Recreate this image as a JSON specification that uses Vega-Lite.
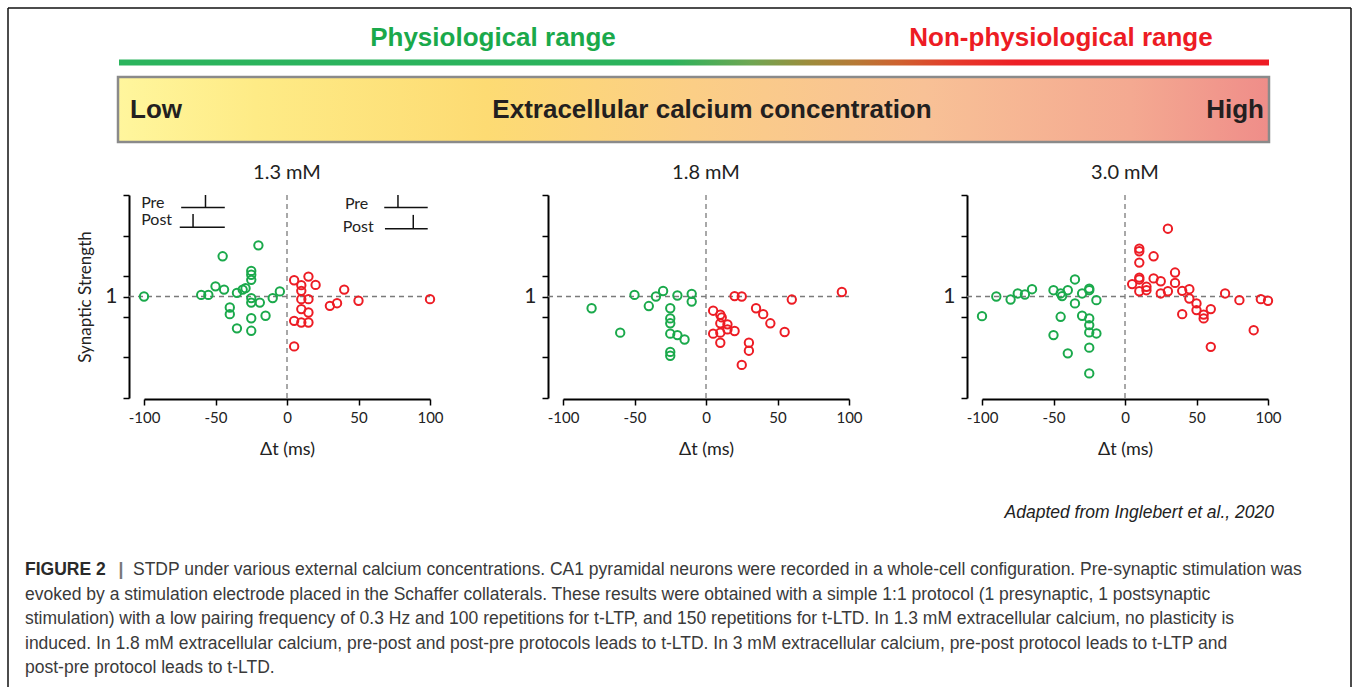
{
  "$schema": "https://vega.github.io/schema/vega-lite/v6.json",
  "padding": 0,
  "background": "white",
  "config": {"view": {"stroke": null}},
  "datasets": {
    "pts": [
      {"p":"1.3","t":-100,"s":1.0,"g":"post-pre"},{"p":"1.3","t":-60,"s":1.008,"g":"post-pre"},{"p":"1.3","t":-55,"s":1.008,"g":"post-pre"},{"p":"1.3","t":-50,"s":1.05,"g":"post-pre"},{"p":"1.3","t":-45,"s":1.198,"g":"post-pre"},{"p":"1.3","t":-44,"s":1.034,"g":"post-pre"},{"p":"1.3","t":-35,"s":1.018,"g":"post-pre"},{"p":"1.3","t":-40,"s":0.946,"g":"post-pre"},{"p":"1.3","t":-40,"s":0.913,"g":"post-pre"},{"p":"1.3","t":-35,"s":0.843,"g":"post-pre"},{"p":"1.3","t":-31,"s":1.034,"g":"post-pre"},{"p":"1.3","t":-29,"s":1.041,"g":"post-pre"},{"p":"1.3","t":-25,"s":1.126,"g":"post-pre"},{"p":"1.3","t":-25,"s":1.107,"g":"post-pre"},{"p":"1.3","t":-25,"s":1.082,"g":"post-pre"},{"p":"1.3","t":-25,"s":0.992,"g":"post-pre"},{"p":"1.3","t":-25,"s":0.97,"g":"post-pre"},{"p":"1.3","t":-19,"s":0.97,"g":"post-pre"},{"p":"1.3","t":-25,"s":0.893,"g":"post-pre"},{"p":"1.3","t":-25,"s":0.831,"g":"post-pre"},{"p":"1.3","t":-20,"s":1.252,"g":"post-pre"},{"p":"1.3","t":-15,"s":0.905,"g":"post-pre"},{"p":"1.3","t":-10,"s":0.992,"g":"post-pre"},{"p":"1.3","t":-5,"s":1.025,"g":"post-pre"},
      {"p":"1.3","t":5,"s":1.08,"g":"pre-post"},{"p":"1.3","t":10,"s":1.056,"g":"pre-post"},{"p":"1.3","t":15,"s":1.098,"g":"pre-post"},{"p":"1.3","t":20,"s":1.057,"g":"pre-post"},{"p":"1.3","t":10,"s":1.028,"g":"pre-post"},{"p":"1.3","t":10,"s":0.987,"g":"pre-post"},{"p":"1.3","t":15,"s":0.987,"g":"pre-post"},{"p":"1.3","t":10,"s":0.938,"g":"pre-post"},{"p":"1.3","t":15,"s":0.921,"g":"pre-post"},{"p":"1.3","t":5,"s":0.88,"g":"pre-post"},{"p":"1.3","t":10,"s":0.872,"g":"pre-post"},{"p":"1.3","t":15,"s":0.872,"g":"pre-post"},{"p":"1.3","t":5,"s":0.754,"g":"pre-post"},{"p":"1.3","t":30,"s":0.954,"g":"pre-post"},{"p":"1.3","t":35,"s":0.967,"g":"pre-post"},{"p":"1.3","t":40,"s":1.034,"g":"pre-post"},{"p":"1.3","t":50,"s":0.979,"g":"pre-post"},{"p":"1.3","t":100,"s":0.987,"g":"pre-post"},
      {"p":"1.8","t":-80,"s":0.942,"g":"post-pre"},{"p":"1.8","t":-60,"s":0.822,"g":"post-pre"},{"p":"1.8","t":-50,"s":1.008,"g":"post-pre"},{"p":"1.8","t":-40,"s":0.953,"g":"post-pre"},{"p":"1.8","t":-35,"s":1.0,"g":"post-pre"},{"p":"1.8","t":-30,"s":1.027,"g":"post-pre"},{"p":"1.8","t":-25,"s":0.942,"g":"post-pre"},{"p":"1.8","t":-25,"s":0.892,"g":"post-pre"},{"p":"1.8","t":-25,"s":0.868,"g":"post-pre"},{"p":"1.8","t":-25,"s":0.817,"g":"post-pre"},{"p":"1.8","t":-20,"s":1.005,"g":"post-pre"},{"p":"1.8","t":-20,"s":0.81,"g":"post-pre"},{"p":"1.8","t":-15,"s":0.788,"g":"post-pre"},{"p":"1.8","t":-25,"s":0.727,"g":"post-pre"},{"p":"1.8","t":-25,"s":0.708,"g":"post-pre"},{"p":"1.8","t":-10,"s":1.013,"g":"post-pre"},{"p":"1.8","t":-10,"s":0.975,"g":"post-pre"},
      {"p":"1.8","t":5,"s":0.93,"g":"pre-post"},{"p":"1.8","t":10,"s":0.91,"g":"pre-post"},{"p":"1.8","t":11,"s":0.897,"g":"pre-post"},{"p":"1.8","t":10,"s":0.868,"g":"pre-post"},{"p":"1.8","t":15,"s":0.863,"g":"pre-post"},{"p":"1.8","t":15,"s":0.838,"g":"pre-post"},{"p":"1.8","t":20,"s":0.83,"g":"pre-post"},{"p":"1.8","t":5,"s":0.817,"g":"pre-post"},{"p":"1.8","t":10,"s":0.822,"g":"pre-post"},{"p":"1.8","t":10,"s":0.772,"g":"pre-post"},{"p":"1.8","t":20,"s":1.002,"g":"pre-post"},{"p":"1.8","t":25,"s":1.0,"g":"pre-post"},{"p":"1.8","t":30,"s":0.772,"g":"pre-post"},{"p":"1.8","t":30,"s":0.733,"g":"pre-post"},{"p":"1.8","t":25,"s":0.663,"g":"pre-post"},{"p":"1.8","t":35,"s":0.942,"g":"pre-post"},{"p":"1.8","t":40,"s":0.913,"g":"pre-post"},{"p":"1.8","t":45,"s":0.868,"g":"pre-post"},{"p":"1.8","t":55,"s":0.825,"g":"pre-post"},{"p":"1.8","t":60,"s":0.985,"g":"pre-post"},{"p":"1.8","t":95,"s":1.022,"g":"pre-post"},
      {"p":"3.0","t":-100,"s":0.903,"g":"post-pre"},{"p":"3.0","t":-90,"s":1.0,"g":"post-pre"},{"p":"3.0","t":-80,"s":0.985,"g":"post-pre"},{"p":"3.0","t":-75,"s":1.015,"g":"post-pre"},{"p":"3.0","t":-70,"s":1.01,"g":"post-pre"},{"p":"3.0","t":-65,"s":1.036,"g":"post-pre"},{"p":"3.0","t":-50,"s":1.031,"g":"post-pre"},{"p":"3.0","t":-45,"s":1.015,"g":"post-pre"},{"p":"3.0","t":-44,"s":1.002,"g":"post-pre"},{"p":"3.0","t":-40,"s":1.031,"g":"post-pre"},{"p":"3.0","t":-35,"s":1.084,"g":"post-pre"},{"p":"3.0","t":-35,"s":0.966,"g":"post-pre"},{"p":"3.0","t":-30,"s":1.015,"g":"post-pre"},{"p":"3.0","t":-25,"s":1.039,"g":"post-pre"},{"p":"3.0","t":-25,"s":1.031,"g":"post-pre"},{"p":"3.0","t":-20,"s":0.982,"g":"post-pre"},{"p":"3.0","t":-45,"s":0.9,"g":"post-pre"},{"p":"3.0","t":-30,"s":0.905,"g":"post-pre"},{"p":"3.0","t":-25,"s":0.892,"g":"post-pre"},{"p":"3.0","t":-25,"s":0.859,"g":"post-pre"},{"p":"3.0","t":-25,"s":0.823,"g":"post-pre"},{"p":"3.0","t":-20,"s":0.818,"g":"post-pre"},{"p":"3.0","t":-50,"s":0.81,"g":"post-pre"},{"p":"3.0","t":-40,"s":0.72,"g":"post-pre"},{"p":"3.0","t":-25,"s":0.748,"g":"post-pre"},{"p":"3.0","t":-25,"s":0.621,"g":"post-pre"},
      {"p":"3.0","t":5,"s":1.061,"g":"pre-post"},{"p":"3.0","t":10,"s":1.236,"g":"pre-post"},{"p":"3.0","t":10,"s":1.223,"g":"pre-post"},{"p":"3.0","t":10,"s":1.167,"g":"pre-post"},{"p":"3.0","t":10,"s":1.093,"g":"pre-post"},{"p":"3.0","t":10,"s":1.084,"g":"pre-post"},{"p":"3.0","t":10,"s":1.026,"g":"pre-post"},{"p":"3.0","t":15,"s":1.048,"g":"pre-post"},{"p":"3.0","t":15,"s":1.031,"g":"pre-post"},{"p":"3.0","t":20,"s":1.198,"g":"pre-post"},{"p":"3.0","t":20,"s":1.089,"g":"pre-post"},{"p":"3.0","t":25,"s":1.075,"g":"pre-post"},{"p":"3.0","t":25,"s":1.015,"g":"pre-post"},{"p":"3.0","t":30,"s":1.334,"g":"pre-post"},{"p":"3.0","t":30,"s":1.026,"g":"pre-post"},{"p":"3.0","t":35,"s":1.118,"g":"pre-post"},{"p":"3.0","t":35,"s":1.067,"g":"pre-post"},{"p":"3.0","t":40,"s":1.028,"g":"pre-post"},{"p":"3.0","t":40,"s":0.913,"g":"pre-post"},{"p":"3.0","t":45,"s":1.036,"g":"pre-post"},{"p":"3.0","t":45,"s":0.99,"g":"pre-post"},{"p":"3.0","t":50,"s":0.966,"g":"pre-post"},{"p":"3.0","t":50,"s":0.933,"g":"pre-post"},{"p":"3.0","t":55,"s":0.911,"g":"pre-post"},{"p":"3.0","t":55,"s":0.892,"g":"pre-post"},{"p":"3.0","t":60,"s":0.938,"g":"pre-post"},{"p":"3.0","t":60,"s":0.752,"g":"pre-post"},{"p":"3.0","t":70,"s":1.015,"g":"pre-post"},{"p":"3.0","t":80,"s":0.982,"g":"pre-post"},{"p":"3.0","t":90,"s":0.834,"g":"pre-post"},{"p":"3.0","t":95,"s":0.987,"g":"pre-post"},{"p":"3.0","t":100,"s":0.979,"g":"pre-post"}
    ]
  },
  "bounds": "flush",
  "spacing": 0,
  "vconcat": [
    {
      "width": 1354,
      "height": 195,
      "layer": [
        {
          "data": {"values": [{"x":8,"y":8,"x2":8,"y2":687},{"x":8,"y":8,"x2":1351,"y2":8},{"x":1351,"y":8,"x2":1351,"y2":687}]},
          "mark": {"type": "rule", "color": "#111111", "strokeWidth": 1.5},
          "encoding": {
            "x": {"field": "x", "type": "quantitative", "scale": {"domain": [0, 1354], "nice": false, "zero": false}, "axis": null},
            "x2": {"field": "x2"},
            "y": {"field": "y", "type": "quantitative", "scale": {"domain": [0, 195], "nice": false, "zero": false, "reverse": true}, "axis": null},
            "y2": {"field": "y2"}
          }
        },
        {
          "data": {"values": [{"x":119,"x2":1269,"y":59.5,"y2":65.5}]},
          "mark": {"type": "rect", "fill": {"gradient": "linear", "x1": 0, "y1": 0, "x2": 1, "y2": 0, "stops": [
            {"offset": 0, "color": "#2bb45d"}, {"offset": 0.48, "color": "#2bb35c"}, {"offset": 0.55, "color": "#6fa652"},
            {"offset": 0.6, "color": "#9d8c3c"}, {"offset": 0.64, "color": "#b67a36"}, {"offset": 0.68, "color": "#cf602f"},
            {"offset": 0.73, "color": "#e6382a"}, {"offset": 0.78, "color": "#ed1f26"}, {"offset": 1, "color": "#ed1c24"}]}},
          "encoding": {
            "x": {"field": "x", "type": "quantitative"}, "x2": {"field": "x2"},
            "y": {"field": "y", "type": "quantitative"}, "y2": {"field": "y2"}
          }
        },
        {
          "data": {"values": [{"x":118,"x2":1269,"y":77,"y2":142}]},
          "mark": {"type": "rect", "stroke": "#8a8a8a", "strokeWidth": 2.5, "fill": {"gradient": "linear", "x1": 0, "y1": 0, "x2": 1, "y2": 0, "stops": [
            {"offset": 0, "color": "#fff69d"}, {"offset": 0.12, "color": "#feeb86"}, {"offset": 0.32, "color": "#fddb73"},
            {"offset": 0.5, "color": "#fbce86"}, {"offset": 0.7, "color": "#f8c196"}, {"offset": 0.88, "color": "#f4a991"}, {"offset": 1, "color": "#ef8d89"}]}},
          "encoding": {
            "x": {"field": "x", "type": "quantitative"}, "x2": {"field": "x2"},
            "y": {"field": "y", "type": "quantitative"}, "y2": {"field": "y2"}
          }
        },
        {
          "data": {"values": [{"x":493,"y":38,"t":"Physiological range","c":"phys"},{"x":1061,"y":38,"t":"Non-physiological range","c":"non"}]},
          "mark": {"type": "text", "font": "Liberation Sans", "fontWeight": "bold", "fontSize": 26, "align": "center", "baseline": "middle"},
          "encoding": {
            "x": {"field": "x", "type": "quantitative"},
            "y": {"field": "y", "type": "quantitative"},
            "text": {"field": "t"},
            "color": {"field": "c", "type": "nominal", "scale": {"domain": ["phys", "non"], "range": ["#1aa94b", "#ed1c24"]}, "legend": null}
          }
        },
        {
          "data": {"values": [{"x":156,"y":110,"t":"Low"},{"x":712,"y":110,"t":"Extracellular calcium concentration"},{"x":1235,"y":110,"t":"High"}]},
          "mark": {"type": "text", "font": "Liberation Sans", "fontWeight": "bold", "fontSize": 26, "align": "center", "baseline": "middle", "color": "#231f20"},
          "encoding": {
            "x": {"field": "x", "type": "quantitative"},
            "y": {"field": "y", "type": "quantitative"},
            "text": {"field": "t"}
          }
        }
      ]
    },
    {
      "bounds": "flush",
      "spacing": 133,
      "hconcat": [
        {"width": 11, "height": 203, "data": {"values": []}, "mark": "point"},
        {
          "width": 286, "height": 203,
          "title": {"text": "1.3 mM", "font": "Lato", "fontSize": 20, "fontWeight": "normal", "color": "#222222", "frame": "group", "offset": 11},
          "resolve": {"axis": {"y": "independent"}},
          "layer": [
            {
              "data": {"values": [{"t": -110.5, "t2": 100, "s": 1}]},
              "mark": {"type": "rule", "strokeDash": [5, 4], "color": "#7a7a7a", "strokeWidth": 1.3},
              "encoding": {
                "x": {"field": "t", "type": "quantitative", "title": "Δt (ms)", "scale": {"domain": [-100, 100], "nice": false, "zero": false},
                  "axis": {"values": [-100, -50, 0, 50, 100], "labelExpr": "'' + datum.value", "offset": 1, "domainColor": "black", "domainWidth": 2, "tickColor": "black", "tickWidth": 1.5, "tickSize": 6, "labelFont": "Lato", "labelFontSize": 15, "labelColor": "#222222", "labelPadding": 5, "labelFlush": false, "labelOverlap": false, "titleFont": "Lato", "titleFontSize": 18, "titleFontWeight": "normal", "titleColor": "#222222", "titlePadding": 15, "grid": false}},
                "x2": {"field": "t2"},
                "y": {"field": "s", "type": "quantitative", "title": "Synaptic Strength", "scale": {"domain": [0.5, 1.5], "nice": false, "zero": false},
                  "axis": {"orient": "left", "values": [1], "domain": false, "offset": 15, "tickColor": "black", "tickWidth": 1.5, "tickSize": 6, "labelFont": "Lato", "labelFontSize": 21, "labelColor": "#222222", "labelPadding": 6, "titleFont": "Lato", "titleFontSize": 17, "titleFontWeight": "normal", "titleColor": "#222222", "titlePadding": 10, "grid": false}}
              }
            },
            {
              "layer": [
                {
                  "data": {"values": [{"t": 0, "s": 0.5, "s2": 1.5}]},
                  "mark": {"type": "rule", "strokeDash": [5, 4], "color": "#7a7a7a", "strokeWidth": 1.3},
                  "encoding": {
                    "x": {"field": "t", "type": "quantitative", "title": "Δt (ms)"},
                    "y": {"field": "s", "type": "quantitative", "title": null, "scale": {"domain": [0.5, 1.5], "nice": false, "zero": false},
                      "axis": {"orient": "left", "values": [0.5, 0.6, 0.7, 0.8, 0.9, 1, 1.1, 1.2, 1.3, 1.4, 1.5], "labels": false, "offset": 15, "domainColor": "black", "domainWidth": 2, "tickColor": "black", "tickWidth": 1.5, "tickSize": 6, "grid": false}},
                    "y2": {"field": "s2"}
                  }
                },
                {
                  "data": {"values": [
                    {"t":-74,"t2":-43.5,"s":1.439,"s2":1.439},{"t":-57,"t2":-57,"s":1.5,"s2":1.439},
                    {"t":-75,"t2":-43.5,"s":1.341,"s2":1.341},{"t":-65.7,"t2":-65.7,"s":1.407,"s2":1.341},
                    {"t":68,"t2":98.4,"s":1.439,"s2":1.439},{"t":77.6,"t2":77.6,"s":1.5,"s2":1.439},
                    {"t":68.5,"t2":98.4,"s":1.334,"s2":1.334},{"t":88.3,"t2":88.3,"s":1.402,"s2":1.334}]},
                  "mark": {"type": "rule", "color": "#111111", "strokeWidth": 1.5},
                  "encoding": {
                    "x": {"field": "t", "type": "quantitative", "title": "Δt (ms)"}, "x2": {"field": "t2"},
                    "y": {"field": "s", "type": "quantitative", "title": null}, "y2": {"field": "s2"}
                  }
                },
                {
                  "data": {"values": [{"lab":"Pre","t":-102,"s":1.462},{"lab":"Post","t":-102,"s":1.379},{"lab":"Pre","t":40.5,"s":1.457},{"lab":"Post","t":39,"s":1.344}]},
                  "mark": {"type": "text", "font": "Lato", "fontSize": 16, "align": "left", "baseline": "middle", "color": "#222222"},
                  "encoding": {
                    "x": {"field": "t", "type": "quantitative", "title": "Δt (ms)"},
                    "y": {"field": "s", "type": "quantitative", "title": null},
                    "text": {"field": "lab"}
                  }
                },
                {
                  "data": {"name": "pts"},
                  "transform": [{"filter": "datum.p == '1.3'"}],
                  "mark": {"type": "point", "shape": "circle", "filled": false, "size": 70, "strokeWidth": 2, "opacity": 1},
                  "encoding": {
                    "x": {"field": "t", "type": "quantitative", "title": "Δt (ms)"},
                    "y": {"field": "s", "type": "quantitative", "title": null},
                    "color": {"field": "g", "type": "nominal", "scale": {"domain": ["post-pre", "pre-post"], "range": ["#2dae4f", "#e8232b"]}, "legend": null}
                  }
                }
              ]
            }
          ]
        },
        {
          "width": 286, "height": 203,
          "title": {"text": "1.8 mM", "font": "Lato", "fontSize": 20, "fontWeight": "normal", "color": "#222222", "frame": "group", "offset": 11},
          "resolve": {"axis": {"y": "independent"}},
          "layer": [
            {
              "data": {"values": [{"t": -110.5, "t2": 100, "s": 1}]},
              "mark": {"type": "rule", "strokeDash": [5, 4], "color": "#7a7a7a", "strokeWidth": 1.3},
              "encoding": {
                "x": {"field": "t", "type": "quantitative", "title": "Δt (ms)", "scale": {"domain": [-100, 100], "nice": false, "zero": false},
                  "axis": {"values": [-100, -50, 0, 50, 100], "labelExpr": "'' + datum.value", "offset": 1, "domainColor": "black", "domainWidth": 2, "tickColor": "black", "tickWidth": 1.5, "tickSize": 6, "labelFont": "Lato", "labelFontSize": 15, "labelColor": "#222222", "labelPadding": 5, "labelFlush": false, "labelOverlap": false, "titleFont": "Lato", "titleFontSize": 18, "titleFontWeight": "normal", "titleColor": "#222222", "titlePadding": 15, "grid": false}},
                "x2": {"field": "t2"},
                "y": {"field": "s", "type": "quantitative", "title": null, "scale": {"domain": [0.5, 1.5], "nice": false, "zero": false},
                  "axis": {"orient": "left", "values": [1], "domain": false, "offset": 15, "tickColor": "black", "tickWidth": 1.5, "tickSize": 6, "labelFont": "Lato", "labelFontSize": 21, "labelColor": "#222222", "labelPadding": 6, "grid": false}}
              }
            },
            {
              "layer": [
                {
                  "data": {"values": [{"t": 0, "s": 0.5, "s2": 1.5}]},
                  "mark": {"type": "rule", "strokeDash": [5, 4], "color": "#7a7a7a", "strokeWidth": 1.3},
                  "encoding": {
                    "x": {"field": "t", "type": "quantitative", "title": "Δt (ms)"},
                    "y": {"field": "s", "type": "quantitative", "title": null, "scale": {"domain": [0.5, 1.5], "nice": false, "zero": false},
                      "axis": {"orient": "left", "values": [0.5, 0.6, 0.7, 0.8, 0.9, 1, 1.1, 1.2, 1.3, 1.4, 1.5], "labels": false, "offset": 15, "domainColor": "black", "domainWidth": 2, "tickColor": "black", "tickWidth": 1.5, "tickSize": 6, "grid": false}},
                    "y2": {"field": "s2"}
                  }
                },
                {
                  "data": {"name": "pts"},
                  "transform": [{"filter": "datum.p == '1.8'"}],
                  "mark": {"type": "point", "shape": "circle", "filled": false, "size": 70, "strokeWidth": 2, "opacity": 1},
                  "encoding": {
                    "x": {"field": "t", "type": "quantitative", "title": "Δt (ms)"},
                    "y": {"field": "s", "type": "quantitative", "title": null},
                    "color": {"field": "g", "type": "nominal", "scale": {"domain": ["post-pre", "pre-post"], "range": ["#2dae4f", "#e8232b"]}, "legend": null}
                  }
                }
              ]
            }
          ]
        },
        {
          "width": 286, "height": 203,
          "title": {"text": "3.0 mM", "font": "Lato", "fontSize": 20, "fontWeight": "normal", "color": "#222222", "frame": "group", "offset": 11},
          "resolve": {"axis": {"y": "independent"}},
          "layer": [
            {
              "data": {"values": [{"t": -110.5, "t2": 100, "s": 1}]},
              "mark": {"type": "rule", "strokeDash": [5, 4], "color": "#7a7a7a", "strokeWidth": 1.3},
              "encoding": {
                "x": {"field": "t", "type": "quantitative", "title": "Δt (ms)", "scale": {"domain": [-100, 100], "nice": false, "zero": false},
                  "axis": {"values": [-100, -50, 0, 50, 100], "labelExpr": "'' + datum.value", "offset": 1, "domainColor": "black", "domainWidth": 2, "tickColor": "black", "tickWidth": 1.5, "tickSize": 6, "labelFont": "Lato", "labelFontSize": 15, "labelColor": "#222222", "labelPadding": 5, "labelFlush": false, "labelOverlap": false, "titleFont": "Lato", "titleFontSize": 18, "titleFontWeight": "normal", "titleColor": "#222222", "titlePadding": 15, "grid": false}},
                "x2": {"field": "t2"},
                "y": {"field": "s", "type": "quantitative", "title": null, "scale": {"domain": [0.5, 1.5], "nice": false, "zero": false},
                  "axis": {"orient": "left", "values": [1], "domain": false, "offset": 15, "tickColor": "black", "tickWidth": 1.5, "tickSize": 6, "labelFont": "Lato", "labelFontSize": 21, "labelColor": "#222222", "labelPadding": 6, "grid": false}}
              }
            },
            {
              "layer": [
                {
                  "data": {"values": [{"t": 0, "s": 0.5, "s2": 1.5}]},
                  "mark": {"type": "rule", "strokeDash": [5, 4], "color": "#7a7a7a", "strokeWidth": 1.3},
                  "encoding": {
                    "x": {"field": "t", "type": "quantitative", "title": "Δt (ms)"},
                    "y": {"field": "s", "type": "quantitative", "title": null, "scale": {"domain": [0.5, 1.5], "nice": false, "zero": false},
                      "axis": {"orient": "left", "values": [0.5, 0.6, 0.7, 0.8, 0.9, 1, 1.1, 1.2, 1.3, 1.4, 1.5], "labels": false, "offset": 15, "domainColor": "black", "domainWidth": 2, "tickColor": "black", "tickWidth": 1.5, "tickSize": 6, "grid": false}},
                    "y2": {"field": "s2"}
                  }
                },
                {
                  "data": {"name": "pts"},
                  "transform": [{"filter": "datum.p == '3.0'"}],
                  "mark": {"type": "point", "shape": "circle", "filled": false, "size": 70, "strokeWidth": 2, "opacity": 1},
                  "encoding": {
                    "x": {"field": "t", "type": "quantitative", "title": "Δt (ms)"},
                    "y": {"field": "s", "type": "quantitative", "title": null},
                    "color": {"field": "g", "type": "nominal", "scale": {"domain": ["post-pre", "pre-post"], "range": ["#2dae4f", "#e8232b"]}, "legend": null}
                  }
                }
              ]
            }
          ]
        }
      ]
    },
    {
      "width": 1354,
      "height": 494,
      "layer": [
        {
          "data": {"values": [{"x": 1274, "y": 513, "t": "Adapted from Inglebert et al., 2020"}]},
          "mark": {"type": "text", "font": "Liberation Sans", "fontStyle": "italic", "fontSize": 17.5, "align": "right", "baseline": "middle", "color": "#222222"},
          "encoding": {
            "x": {"field": "x", "type": "quantitative", "scale": {"domain": [0, 1354], "nice": false, "zero": false}, "axis": null},
            "y": {"field": "y", "type": "quantitative", "scale": {"domain": [195, 689], "nice": false, "zero": false, "reverse": true}, "axis": null},
            "text": {"field": "t"}
          }
        },
        {
          "data": {"values": [{"x": 25, "y": 570, "t": "FIGURE 2"}]},
          "mark": {"type": "text", "font": "Liberation Sans", "fontWeight": "bold", "fontSize": 17.5, "align": "left", "baseline": "middle", "color": "#2a2a2a"},
          "encoding": {
            "x": {"field": "x", "type": "quantitative"},
            "y": {"field": "y", "type": "quantitative"},
            "text": {"field": "t"}
          }
        },
        {
          "data": {"values": [{"x": 121, "y": 570, "t": "|"}]},
          "mark": {"type": "text", "font": "Liberation Sans", "fontWeight": "bold", "fontSize": 17.5, "align": "center", "baseline": "middle", "color": "#777777"},
          "encoding": {
            "x": {"field": "x", "type": "quantitative"},
            "y": {"field": "y", "type": "quantitative"},
            "text": {"field": "t"}
          }
        },
        {
          "data": {"values": [
            {"x": 133, "y": 570, "t": "STDP under various external calcium concentrations. CA1 pyramidal neurons were recorded in a whole-cell configuration. Pre-synaptic stimulation was"},
            {"x": 25, "y": 594.5, "t": "evoked by a stimulation electrode placed in the Schaffer collaterals. These results were obtained with a simple 1:1 protocol (1 presynaptic, 1 postsynaptic"},
            {"x": 25, "y": 619, "t": "stimulation) with a low pairing frequency of 0.3 Hz and 100 repetitions for t-LTP, and 150 repetitions for t-LTD. In 1.3 mM extracellular calcium, no plasticity is"},
            {"x": 25, "y": 643.5, "t": "induced. In 1.8 mM extracellular calcium, pre-post and post-pre protocols leads to t-LTD. In 3 mM extracellular calcium, pre-post protocol leads to t-LTP and"},
            {"x": 25, "y": 668, "t": "post-pre protocol leads to t-LTD."}
          ]},
          "mark": {"type": "text", "font": "Liberation Sans", "fontSize": 17.5, "align": "left", "baseline": "middle", "color": "#3a3a3a"},
          "encoding": {
            "x": {"field": "x", "type": "quantitative"},
            "y": {"field": "y", "type": "quantitative"},
            "text": {"field": "t"}
          }
        }
      ]
    }
  ]
}
